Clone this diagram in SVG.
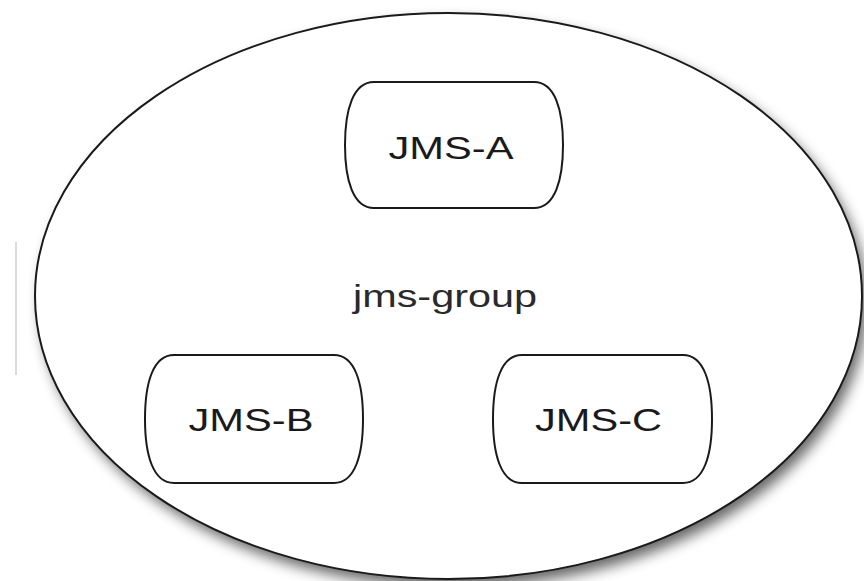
<svg xmlns="http://www.w3.org/2000/svg" width="864" height="581" viewBox="0 0 864 581">
  <style>
    .group-shape { fill: #ffffff; stroke: #1a1a1a; stroke-width: 2; }
    .node-shape { fill: #ffffff; stroke: #1a1a1a; stroke-width: 2; }
    .node-label { font-family: "Liberation Sans", Arial, sans-serif; font-size: 32px; fill: #1a1a1a; }
    .group-label { font-family: "Liberation Sans", Arial, sans-serif; font-size: 31px; fill: #2a2a2a; }
  </style>
  <defs>
    <filter id="drop-shadow" x="-10%" y="-10%" width="120%" height="125%">
      <feGaussianBlur stdDeviation="7"/>
    </filter>
  </defs>

  <rect x="0" y="0" width="864" height="581" fill="#ffffff"/>

  <!-- stray guide line at the left margin -->
  <line x1="16" y1="242" x2="16" y2="375" stroke="#cfcfcf" stroke-width="1.5"/>

  <!-- group container -->
  <g id="jms-group">
    <ellipse cx="454" cy="304" rx="413" ry="283" fill="#000000" opacity="0.6" filter="url(#drop-shadow)"/>
    <ellipse class="group-shape" cx="448.5" cy="296" rx="413.5" ry="283"/>
    <text class="group-label" x="353" y="307" textLength="184" lengthAdjust="spacingAndGlyphs">jms-group</text>
  </g>

  <g id="connectors"></g>

  <g id="jms-a">
    <path class="node-shape" d="M 374,82 H 534 C 555,82 563,110 563,145 C 563,180 555,208 534,208 H 374 C 353,208 345,180 345,145 C 345,110 353,82 374,82 Z"/>
    <text class="node-label" x="388.5" y="159" textLength="125" lengthAdjust="spacingAndGlyphs">JMS-A</text>
  </g>

  <g id="jms-b">
    <path class="node-shape" d="M 174,355 H 334 C 355,355 363,383 363,419 C 363,455 355,483 334,483 H 174 C 153,483 145,455 145,419 C 145,383 153,355 174,355 Z"/>
    <text class="node-label" x="188.5" y="431" textLength="125" lengthAdjust="spacingAndGlyphs">JMS-B</text>
  </g>

  <g id="jms-c">
    <path class="node-shape" d="M 522,355 H 683 C 704,355 712,383 712,419 C 712,455 704,483 683,483 H 522 C 501,483 493,455 493,419 C 493,383 501,355 522,355 Z"/>
    <text class="node-label" x="535" y="431" textLength="127" lengthAdjust="spacingAndGlyphs">JMS-C</text>
  </g>
</svg>
